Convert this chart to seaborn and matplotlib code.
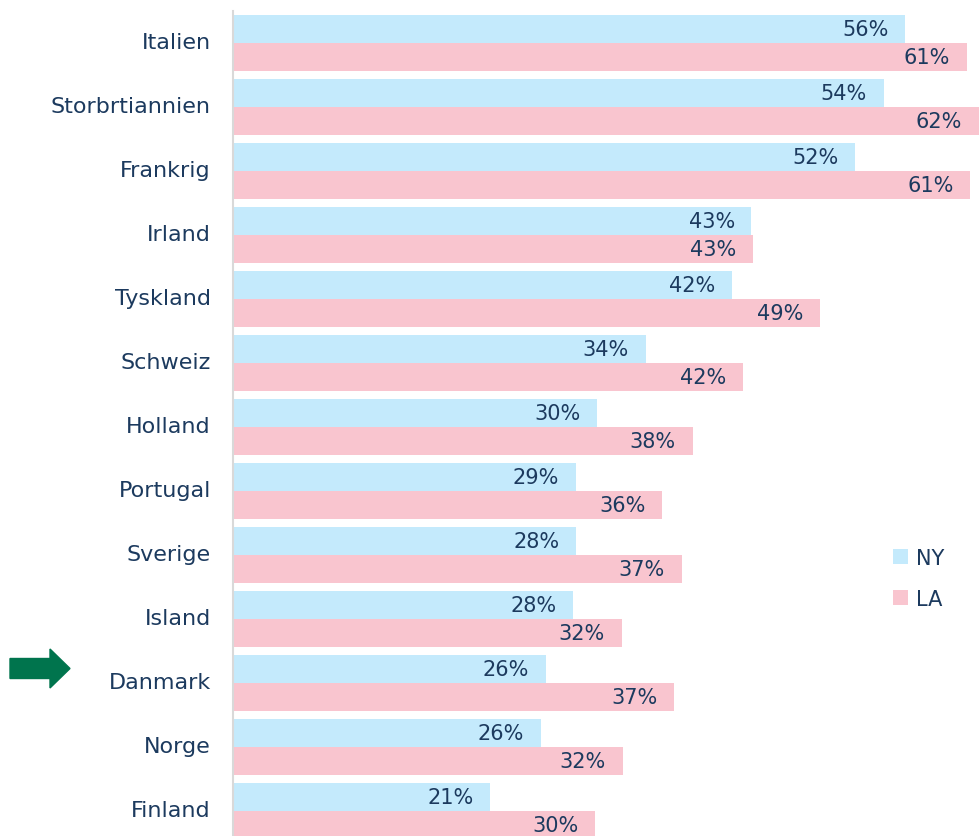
import matplotlib.pyplot as plt
import seaborn as sns
import pandas as pd
from matplotlib.patches import FancyArrow
from matplotlib.transforms import ScaledTranslation

countries = ['Italien', 'Storbrtiannien', 'Frankrig', 'Irland', 'Tyskland', 'Schweiz',
             'Holland', 'Portugal', 'Sverige', 'Island', 'Danmark', 'Norge', 'Finland']
ny_values = [55.9, 54.1, 51.7, 43.1, 41.5, 34.3, 30.3, 28.5, 28.5, 28.3, 26.0, 25.6, 21.4]
la_values = [61.0, 62.0, 61.3, 43.2, 48.8, 42.4, 38.2, 35.7, 37.3, 32.3, 36.7, 32.4, 30.1]
ny_labels = ['56%', '54%', '52%', '43%', '42%', '34%', '30%', '29%', '28%', '28%', '26%', '26%', '21%']
la_labels = ['61%', '62%', '61%', '43%', '49%', '42%', '38%', '36%', '37%', '32%', '37%', '32%', '30%']
series = ['NY', 'LA']

text_color = '#1c3a5e'
palette = {'NY': '#c4eafc', 'LA': '#f9c5cf'}

df = pd.DataFrame({
    'land': countries * 2,
    'andel': ny_values + la_values,
    'serie': ['NY'] * len(countries) + ['LA'] * len(countries),
})

sns.set_style('white')
plt.rcParams['font.family'] = ['DejaVu Sans']

fig = plt.figure(figsize=(9.8, 8.37), dpi=100)
ax = fig.add_axes([233 / 980, -7 / 837, 747 / 980, 832 / 837])

sns.barplot(data=df, y='land', x='andel', hue='serie', hue_order=series,
            palette=palette, orient='h', width=0.875, gap=0, saturation=1,
            errorbar=None, linewidth=0, ax=ax)

# value labels inside the bar ends
for container, labels in zip(ax.containers, [ny_labels, la_labels]):
    for bar, lbl in zip(container, labels):
        ax.annotate(lbl, (bar.get_width(), bar.get_y() + bar.get_height() / 2),
                    xytext=(-12, 0), textcoords='offset points',
                    ha='right', va='center', fontsize=15, color=text_color)

ax.set_xlim(0, 62.1)
ax.set_ylim(12.5, -0.5)
ax.set_xlabel('')
ax.set_ylabel('')
ax.set_xticks([])
ax.tick_params(axis='y', length=0, pad=16, labelsize=16, labelcolor=text_color)
# nudge country names up a little
for lbl in ax.get_yticklabels():
    lbl.set_transform(lbl.get_transform() + ScaledTranslation(0, 0.03, fig.dpi_scale_trans))
for side in ['top', 'right', 'bottom']:
    ax.spines[side].set_visible(False)
ax.spines['left'].set_color('#d9d9d9')
ax.spines['left'].set_linewidth(1.5)

leg = ax.legend(loc='center left', bbox_to_anchor=(0.859, 0.3184), frameon=False,
                fontsize=15, handlelength=0.7, handleheight=0.7, handletextpad=0.4,
                labelspacing=1.0)
for t in leg.get_texts():
    t.set_color(text_color)

# green arrow pointing at Danmark
fig.patches.append(FancyArrow(0.10, 1.675, 0.6, 0, width=0.20, head_width=0.39,
                              head_length=0.20, length_includes_head=True,
                              color='#00744d', transform=fig.dpi_scale_trans,
                              figure=fig))

fig.savefig('out.png', dpi=100)
